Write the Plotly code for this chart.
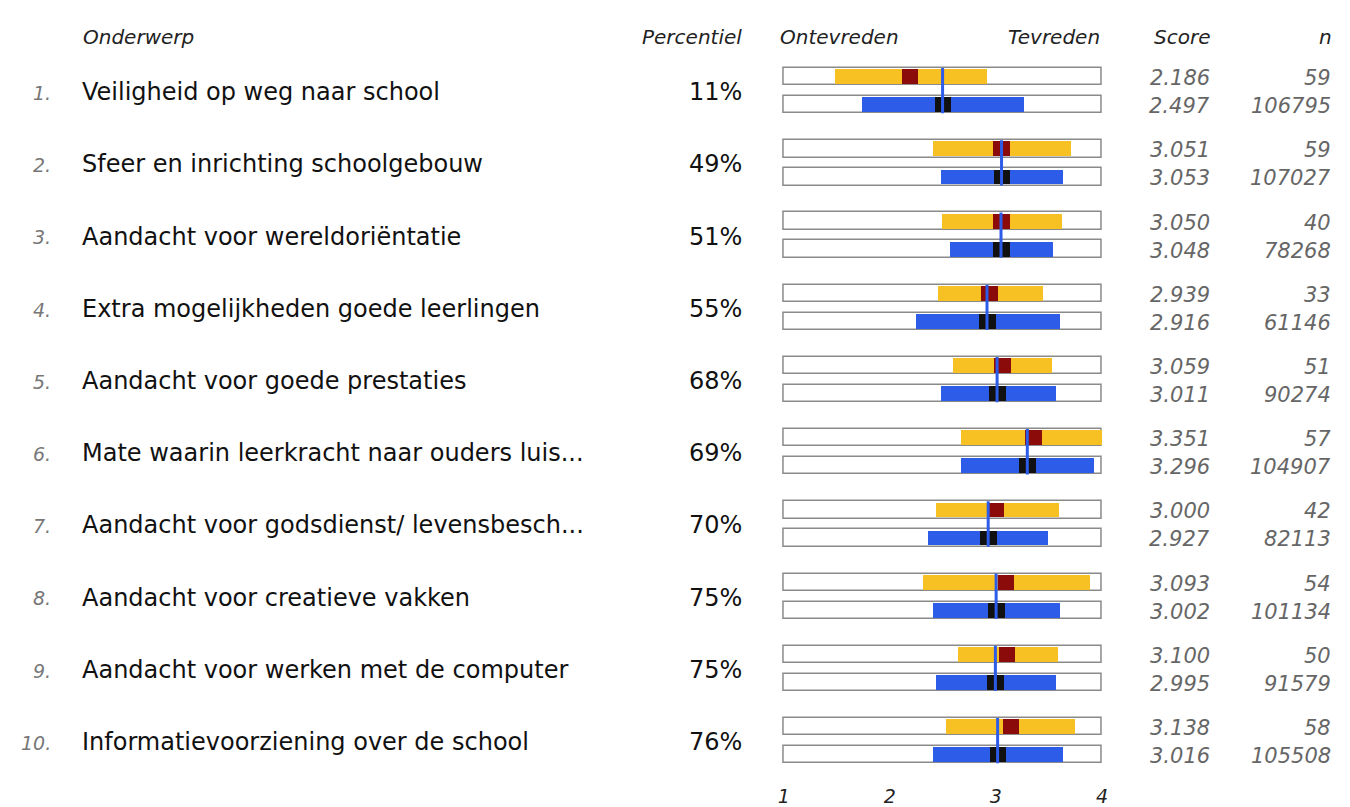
import plotly.graph_objects as go

# ---------------- data ----------------
ranks = ["1.", "2.", "3.", "4.", "5.", "6.", "7.", "8.", "9.", "10."]
labels = [
    "Veiligheid op weg naar school",
    "Sfeer en inrichting schoolgebouw",
    "Aandacht voor wereldoriëntatie",
    "Extra mogelijkheden goede leerlingen",
    "Aandacht voor goede prestaties",
    "Mate waarin leerkracht naar ouders luis...",
    "Aandacht voor godsdienst/ levensbesch...",
    "Aandacht voor creatieve vakken",
    "Aandacht voor werken met de computer",
    "Informatievoorziening over de school",
]
percentiles = ["11%", "49%", "51%", "55%", "68%", "69%", "70%", "75%", "75%", "76%"]
school_score = [2.186, 3.051, 3.050, 2.939, 3.059, 3.351, 3.000, 3.093, 3.100, 3.138]
nat_score = [2.497, 3.053, 3.048, 2.916, 3.011, 3.296, 2.927, 3.002, 2.995, 3.016]
school_n = [59, 59, 40, 33, 51, 57, 42, 54, 50, 58]
nat_n = [106795, 107027, 78268, 61146, 90274, 104907, 82113, 101134, 91579, 105508]
school_low = [1.48, 2.40, 2.49, 2.45, 2.59, 2.67, 2.43, 2.31, 2.64, 2.53]
school_high = [2.91, 3.71, 3.62, 3.44, 3.53, 4.00, 3.59, 3.88, 3.58, 3.74]
nat_low = [1.73, 2.48, 2.56, 2.24, 2.48, 2.67, 2.36, 2.40, 2.43, 2.40]
nat_high = [3.26, 3.63, 3.54, 3.60, 3.56, 3.92, 3.49, 3.60, 3.56, 3.63]
scale_ticks = [1, 2, 3, 4]
headers = {"topic": "Onderwerp", "pct": "Percentiel", "left": "Ontevreden",
           "right": "Tevreden", "score": "Score", "n": "n"}

# ---------------- styling ----------------
FONT = "Verdana, DejaVu Sans, sans-serif"
YELLOW = "#F8C123"
DARKRED = "#8B0B0B"
BLUE = "#2D5CE8"
BLACK = "#111111"
FRAME = "#8a8a8a"

W, H = 1350, 807
OFF = 0.194        # vertical offset of each bar from row centre (row units)
FRAME_H = 0.24
FILL_H = 0.205
MARK_W = 0.156     # marker width in scale units

rows = list(range(len(labels)))
y_school = [r - OFF for r in rows]
y_nat = [r + OFF for r in rows]
all_y = y_school + y_nat

fig = go.Figure()

# frames
fig.add_trace(go.Bar(
    orientation="h", y=all_y, base=[scale_ticks[0]] * len(all_y),
    x=[scale_ticks[-1] - scale_ticks[0]] * len(all_y), width=FRAME_H,
    marker=dict(color="white", line=dict(color=FRAME, width=1.5)),
    hoverinfo="skip", showlegend=False))

# school ranges
fig.add_trace(go.Bar(
    orientation="h", y=y_school, base=school_low,
    x=[h - l for l, h in zip(school_low, school_high)], width=FILL_H,
    marker=dict(color=YELLOW, line=dict(width=0)),
    hoverinfo="skip", showlegend=False))

# national ranges
fig.add_trace(go.Bar(
    orientation="h", y=y_nat, base=nat_low,
    x=[h - l for l, h in zip(nat_low, nat_high)], width=FILL_H,
    marker=dict(color=BLUE, line=dict(width=0)),
    hoverinfo="skip", showlegend=False))

# school mean markers
fig.add_trace(go.Bar(
    orientation="h", y=y_school, base=[s - MARK_W / 2 for s in school_score],
    x=[MARK_W] * len(rows), width=FILL_H,
    marker=dict(color=DARKRED, line=dict(width=0)),
    hoverinfo="skip", showlegend=False))

# national mean markers
fig.add_trace(go.Bar(
    orientation="h", y=y_nat, base=[s - MARK_W / 2 for s in nat_score],
    x=[MARK_W] * len(rows), width=FILL_H,
    marker=dict(color=BLACK, line=dict(width=0)),
    hoverinfo="skip", showlegend=False))

# national reference line across both bars
lx, ly = [], []
for r, s in zip(rows, nat_score):
    lx += [s, s, None]
    ly += [r - OFF - FRAME_H / 2, r + OFF + FRAME_H / 2, None]
fig.add_trace(go.Scatter(x=lx, y=ly, mode="lines",
                         line=dict(color=BLUE, width=3),
                         hoverinfo="skip", showlegend=False))

# ---------------- text columns ----------------
ann = []
def px(x):
    return x / W

def add(text, x, y, anchor, size, color, italic=False, yref="y"):
    ann.append(dict(text=text, x=px(x), y=y, xref="paper", yref=yref,
                    xanchor=anchor, yanchor="middle", showarrow=False,
                    borderpad=0,
                    font=dict(family=FONT, size=size, color=color,
                              style="italic" if italic else "normal")))

hy = 1 - 37 / H
add(headers["topic"], 78, hy, "left", 20, "#222", True, "paper")
add(headers["pct"], 743, hy, "right", 20, "#222", True, "paper")
add(headers["left"], 780, hy, "left", 20, "#222", True, "paper")
add(headers["right"], 1104, hy, "right", 20, "#222", True, "paper")
add(headers["score"], 1214, hy, "right", 20, "#222", True, "paper")
add(headers["n"], 1337, hy, "right", 20, "#222", True, "paper")

for r in rows:
    add(ranks[r], 48, r + 0.03, "right", 19, "#777", True)
    add(labels[r], 77, r + 0.02, "left", 24, "#111")
    add(percentiles[r], 743, r + 0.02, "right", 24, "#111")
    add(f"{school_score[r]:.3f}", 1214, y_school[r] + 0.02, "right", 21, "#666", True)
    add(f"{nat_score[r]:.3f}", 1214, y_nat[r] + 0.02, "right", 21, "#666", True)
    add(str(school_n[r]), 1336, y_school[r] + 0.02, "right", 21, "#666", True)
    add(str(nat_n[r]), 1336, y_nat[r] + 0.02, "right", 21, "#666", True)

# ---------------- layout ----------------
pitch = 72.4
c0 = 90.9
plot_bottom = 783
x0, x1 = 0.98, 4.02
left_px, right_px = 784.5, 1104.5
ppu = (right_px - left_px) / 3.0
dom_l = (left_px - (1 - x0) * ppu) / W
dom_r = (right_px + (x1 - 4) * ppu) / W

fig.update_layout(
    width=W, height=H,
    margin=dict(l=0, r=0, t=0, b=0),
    paper_bgcolor="white", plot_bgcolor="white",
    barmode="overlay", bargap=0,
    annotations=ann,
    xaxis=dict(domain=[dom_l, dom_r], range=[x0, x1],
               tickvals=scale_ticks, ticktext=[str(t) for t in scale_ticks],
               showgrid=False, zeroline=False, showline=False, ticks="",
               tickfont=dict(family=FONT, size=19, color="#222", style="italic"),
               ticklabelstandoff=2, fixedrange=True),
    yaxis=dict(domain=[1 - plot_bottom / H, 1],
               range=[(plot_bottom - c0) / pitch, -c0 / pitch],
               visible=False, fixedrange=True),
    font=dict(family=FONT),
)

fig.write_html(
    "out.html",
    config={"displayModeBar": False, "responsive": False},
    post_script="document.body.style.margin='0';document.body.style.overflow='hidden';",
)
